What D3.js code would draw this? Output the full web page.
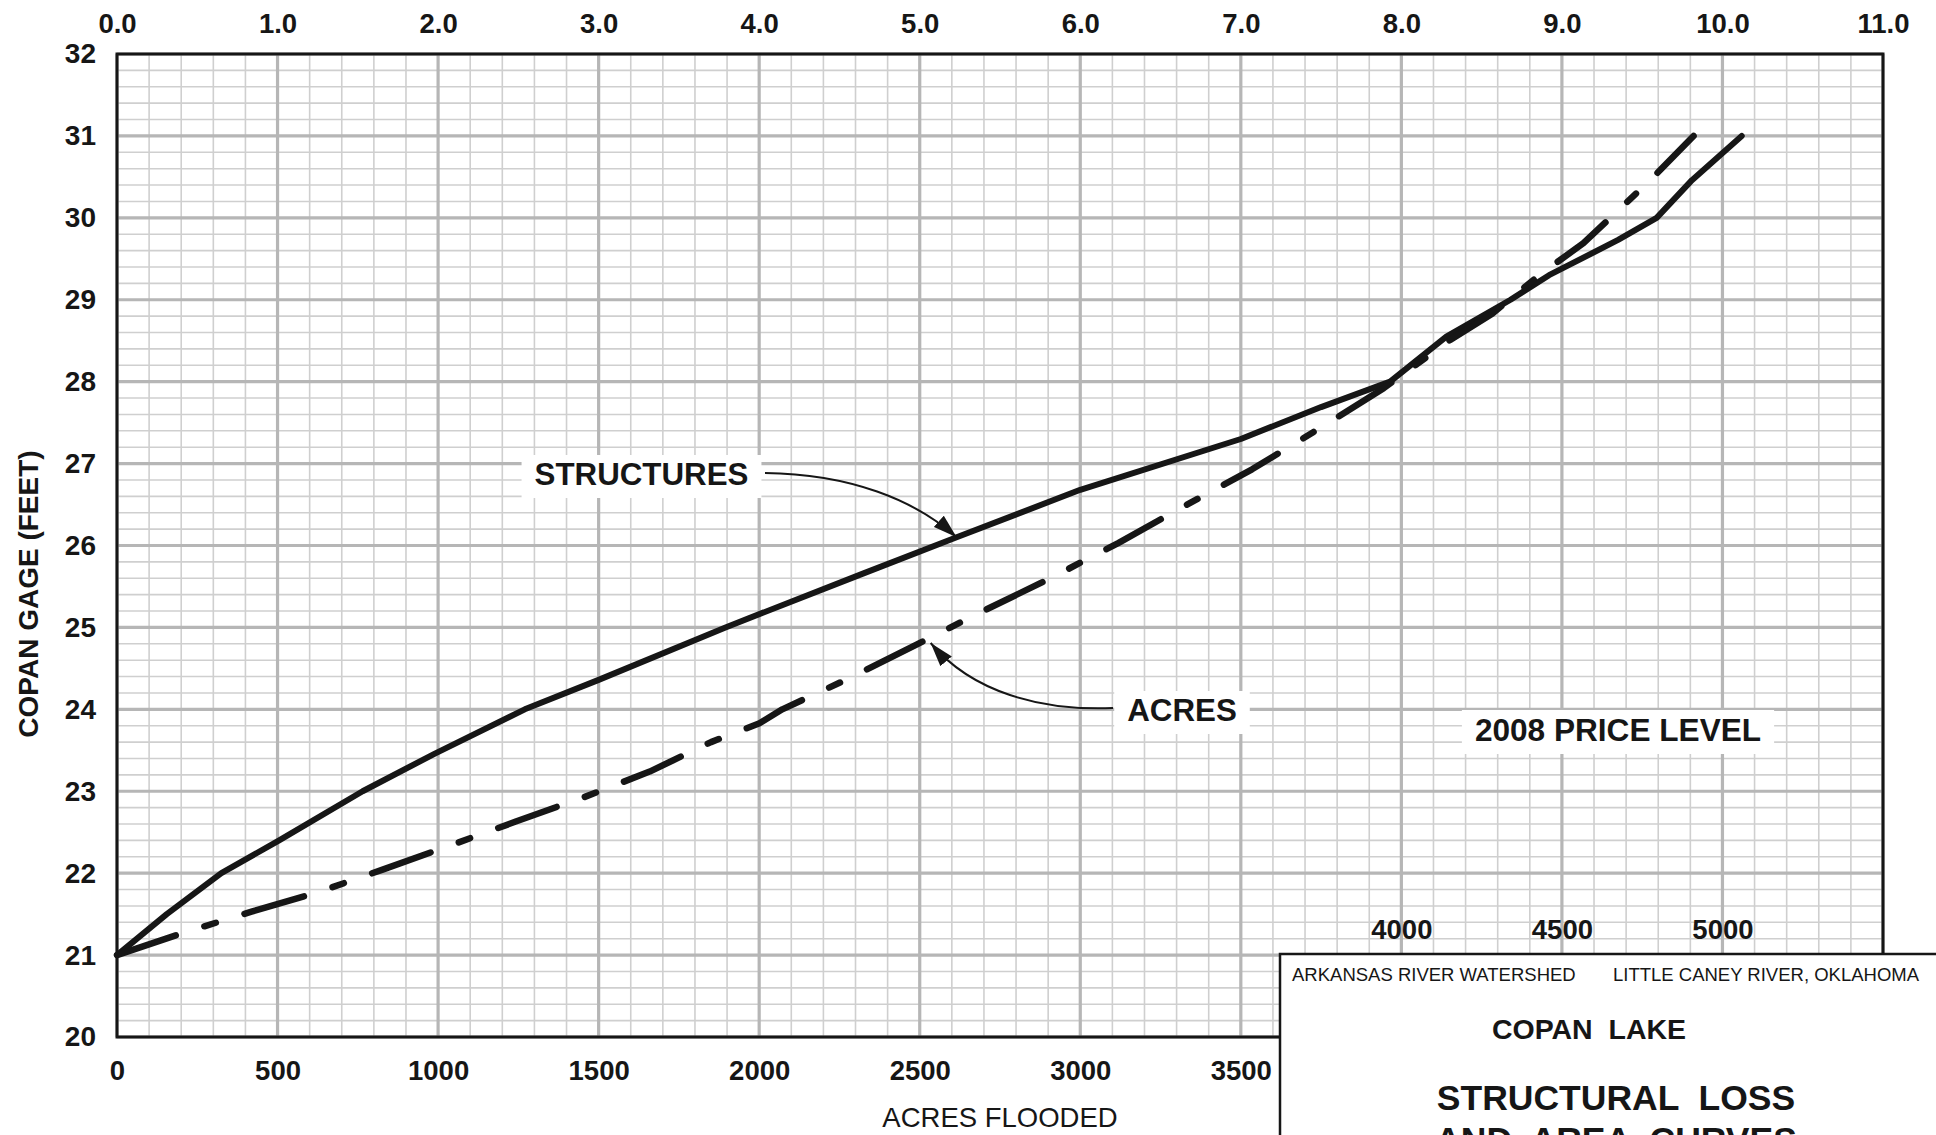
<!DOCTYPE html>
<html>
<head>
<meta charset="utf-8">
<script src="https://cdn.jsdelivr.net/npm/d3@7"></script>
<style>
  html, body { margin: 0; padding: 0; background: #fff; }
  svg { display: block; font-family: "Liberation Sans", Arial, Helvetica, sans-serif; }
</style>
</head>
<body>
<svg id="chart" width="1936" height="1135"></svg>
<script>
// Structures curve: number of structures (top scale) against Copan gage (feet)
const structuresCount = [0, 0.31, 0.65, 1.01, 1.53, 1.98, 2.54, 3.0, 3.79, 4.65, 5.23, 6.0, 7.0, 7.5, 7.93, 8.28, 8.68, 8.92, 9.35, 9.59, 9.81, 10.12];
const structuresGage  = [21, 21.5, 22.0, 22.4, 23.0, 23.46, 24.0, 24.36, 25.0, 25.66, 26.1, 26.68, 27.3, 27.69, 28.0, 28.55, 29.0, 29.3, 29.73, 30.0, 30.46, 31.0];

// Area curve: acres flooded (bottom scale) against Copan gage (feet)
const acresFlooded = [0, 205, 419, 628, 825, 1039, 1242, 1456, 1659, 1850, 2001, 2072, 2281, 2490, 2692, 2907, 3118, 3319, 3535, 3737, 3945, 4152, 4283, 4436, 4567, 4775, 4900, 4910];
const acresGage    = [21, 21.27, 21.53, 21.77, 22.04, 22.34, 22.63, 22.93, 23.24, 23.6, 23.83, 24.0, 24.38, 24.79, 25.19, 25.6, 26.03, 26.47, 26.93, 27.41, 27.92, 28.51, 28.83, 29.32, 29.69, 30.46, 30.96, 31.0];

// Tick labels
const structureTicks = [0, 1, 2, 3, 4, 5, 6, 7, 8, 9, 10, 11];
const gageTicks = [20, 21, 22, 23, 24, 25, 26, 27, 28, 29, 30, 31, 32];
const acreTicks = [0, 500, 1000, 1500, 2000, 2500, 3000, 3500];
const acreTicksRaised = [4000, 4500, 5000];

// Annotation anchor points on the curves
const structuresPointer = [5.23, 26.1];
const acresPointer = [2534, 24.81];

const plot = { left: 117, right: 1883, top: 54, bottom: 1037 };
const ink = "#161616";
const svg = d3.select("#chart");

const xStruct = d3.scaleLinear().domain([0, 11]).range([plot.left, plot.right]);
const xAcres = d3.scaleLinear().domain([0, 5500]).range([plot.left, plot.right]);
const y = d3.scaleLinear().domain([20, 32]).range([plot.bottom, plot.top]);

svg.append("rect").attr("width", 1936).attr("height", 1135).attr("fill", "#fff");

// Graph-paper grid: fifth-unit minor lines, whole-unit major lines
const grid = svg.append("g");
const xSteps = d3.range(0, 56);
const ySteps = d3.range(0, 61);
grid.selectAll(".vminor").data(xSteps.filter(i => i % 5)).join("line")
  .attr("x1", i => xStruct(i / 5)).attr("x2", i => xStruct(i / 5))
  .attr("y1", plot.top).attr("y2", plot.bottom)
  .attr("stroke", "#cfcfcf").attr("stroke-width", 1.6);
grid.selectAll(".hminor").data(ySteps.filter(i => i % 5)).join("line")
  .attr("x1", plot.left).attr("x2", plot.right)
  .attr("y1", i => y(20 + i / 5)).attr("y2", i => y(20 + i / 5))
  .attr("stroke", "#cfcfcf").attr("stroke-width", 1.6);
grid.selectAll(".vmajor").data(structureTicks).join("line")
  .attr("x1", d => xStruct(d)).attr("x2", d => xStruct(d))
  .attr("y1", plot.top).attr("y2", plot.bottom)
  .attr("stroke", "#b6b6b6").attr("stroke-width", 3.2);
grid.selectAll(".hmajor").data(gageTicks).join("line")
  .attr("x1", plot.left).attr("x2", plot.right)
  .attr("y1", d => y(d)).attr("y2", d => y(d))
  .attr("stroke", "#b6b6b6").attr("stroke-width", 3.2);

// Plot frame
svg.append("rect")
  .attr("x", plot.left).attr("y", plot.top)
  .attr("width", plot.right - plot.left).attr("height", plot.bottom - plot.top)
  .attr("fill", "none").attr("stroke", ink).attr("stroke-width", 3);

// Label layer with white halos behind the in-plot labels
const labelLayer = svg.append("g");
const haloLayer = labelLayer.append("g");
const curveLayer = svg.append("g");
const noteLayer = svg.append("g");

function haloLabel(text, x, yBase, size) {
  const t = noteLayer.append("text")
    .attr("x", x).attr("y", yBase)
    .attr("text-anchor", "middle")
    .attr("font-size", size).attr("font-weight", "bold")
    .attr("fill", ink).text(text);
  const b = t.node().getBBox();
  haloLayer.append("rect")
    .attr("x", b.x - 13).attr("y", b.y - 2)
    .attr("width", b.width + 26).attr("height", b.height + 8)
    .attr("fill", "#fff");
  return t;
}

haloLabel("STRUCTURES", 641.5, 485, 31.3);
haloLabel("ACRES", 1182, 721, 31.3);
haloLabel("2008 PRICE LEVEL", 1618, 741, 31.6);

// Curves
const structuresData = structuresCount.map((c, i) => [c, structuresGage[i]]);
const acresData = acresFlooded.map((a, i) => [a, acresGage[i]]);

curveLayer.append("path")
  .datum(structuresData)
  .attr("d", d3.line().x(d => xStruct(d[0])).y(d => y(d[1])))
  .attr("fill", "none").attr("stroke", ink)
  .attr("stroke-width", 6).attr("stroke-linejoin", "round").attr("stroke-linecap", "round");

curveLayer.append("path")
  .datum(acresData)
  .attr("d", d3.line().x(d => xAcres(d[0])).y(d => y(d[1])))
  .attr("fill", "none").attr("stroke", ink)
  .attr("stroke-width", 6.5).attr("stroke-linecap", "round").attr("stroke-linejoin", "round")
  .attr("stroke-dasharray", "62,30,12,30");

// Leader arrows
const defs = svg.append("defs");
defs.append("marker")
  .attr("id", "head").attr("markerUnits", "userSpaceOnUse")
  .attr("viewBox", "0 -8 24 16").attr("refX", 24).attr("refY", 0)
  .attr("markerWidth", 24).attr("markerHeight", 16).attr("orient", "auto")
  .append("path").attr("d", "M0,-7.5L24,0L0,7.5Z").attr("fill", ink);

const sx = xStruct(structuresPointer[0]), sy = y(structuresPointer[1]);
noteLayer.append("path")
  .attr("d", `M765,473 C850,474 915,500 ${sx},${sy}`)
  .attr("fill", "none").attr("stroke", ink).attr("stroke-width", 2)
  .attr("marker-end", "url(#head)");

const ax = xAcres(acresPointer[0]), ay = y(acresPointer[1]);
noteLayer.append("path")
  .attr("d", `M1113,708 C1040,711 972,692 ${ax},${ay}`)
  .attr("fill", "none").attr("stroke", ink).attr("stroke-width", 2)
  .attr("marker-end", "url(#head)");

// Axes
function styleAxis(g, size, weight) {
  g.select(".domain").remove();
  g.attr("font-family", null).attr("font-size", null);
  g.selectAll("text").attr("font-size", size).attr("font-weight", weight).attr("fill", ink);
}

svg.append("g").attr("transform", `translate(0,${plot.top})`)
  .call(d3.axisTop(xStruct).tickValues(structureTicks).tickFormat(d3.format(".1f")).tickSize(0).tickPadding(21))
  .call(g => styleAxis(g, 27.5, "bold"));

svg.append("g").attr("transform", `translate(${plot.left},0)`)
  .call(d3.axisLeft(y).tickValues(gageTicks).tickFormat(d3.format("d")).tickSize(0).tickPadding(21))
  .call(g => styleAxis(g, 28, "bold"));

svg.append("g").attr("transform", `translate(0,${plot.bottom})`)
  .call(d3.axisBottom(xAcres).tickValues(acreTicks).tickFormat(d3.format("d")).tickSize(0).tickPadding(23))
  .call(g => styleAxis(g, 27.5, "bold"));

svg.append("g").attr("transform", "translate(0,919)")
  .call(d3.axisBottom(xAcres).tickValues(acreTicksRaised).tickFormat(d3.format("d")).tickSize(0).tickPadding(0))
  .call(g => styleAxis(g, 27.5, "bold"));

// Axis titles
svg.append("text")
  .attr("transform", "translate(28,594) rotate(-90)")
  .attr("text-anchor", "middle").attr("dominant-baseline", "central")
  .attr("font-size", 28).attr("font-weight", "bold").attr("fill", ink)
  .text("COPAN GAGE (FEET)");

svg.append("text")
  .attr("x", (plot.left + plot.right) / 2).attr("y", 1127)
  .attr("text-anchor", "middle")
  .attr("font-size", 27.5).attr("fill", ink)
  .text("ACRES FLOODED");

// Title block
const block = svg.append("g");
block.append("rect")
  .attr("x", 1280).attr("y", 954).attr("width", 720).attr("height", 260)
  .attr("fill", "#fff").attr("stroke", ink).attr("stroke-width", 2.5);
block.append("text").attr("x", 1292).attr("y", 981)
  .attr("font-size", 18.5).attr("fill", ink).text("ARKANSAS RIVER WATERSHED");
block.append("text").attr("x", 1613).attr("y", 981)
  .attr("font-size", 18.5).attr("fill", ink).text("LITTLE CANEY RIVER, OKLAHOMA");
block.append("text").attr("x", 1589).attr("y", 1039)
  .attr("text-anchor", "middle").style("white-space", "pre")
  .attr("font-size", 28.5).attr("font-weight", "bold").attr("fill", ink).text("COPAN  LAKE");
block.append("text").attr("x", 1616).attr("y", 1110)
  .attr("text-anchor", "middle").style("white-space", "pre")
  .attr("font-size", 35.5).attr("font-weight", "bold").attr("fill", ink).text("STRUCTURAL  LOSS");
block.append("text").attr("x", 1616).attr("y", 1152)
  .attr("text-anchor", "middle").style("white-space", "pre")
  .attr("font-size", 35.5).attr("font-weight", "bold").attr("fill", ink).text("AND  AREA  CURVES");
</script>
</body>
</html>
